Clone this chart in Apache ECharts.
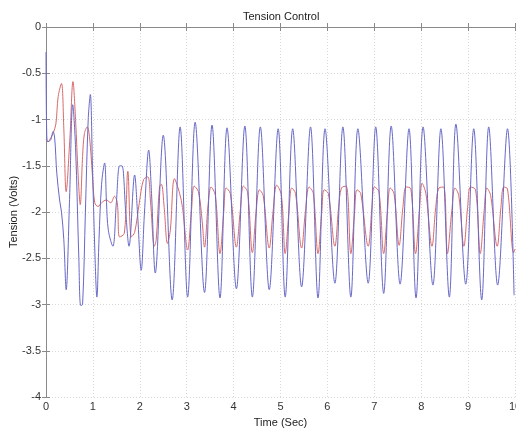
<!DOCTYPE html>
<html><head><meta charset="utf-8">
<script src="https://cdn.jsdelivr.net/npm/echarts@6/dist/echarts.min.js"></script>
<style>html,body{margin:0;padding:0;background:#fff}#c{width:516px;height:428px}</style>
</head><body><div id="c"></div>
<script>
const xTicks = [0,1,2,3,4,5,6,7,8,9,10];
const yTicks = [0,-0.5,-1,-1.5,-2,-2.5,-3,-3.5,-4];

const blueT = [0,0.015,0.04,0.1,0.15,0.185,0.23,0.29,0.33,0.38,0.43,0.5,0.57,0.63,0.70,0.74,0.78,0.84,0.9,0.945,0.99,1.04,1.085,1.13,1.185,1.25,1.29,1.33,1.425,1.5,1.57,1.62,1.70,1.77,1.89,1.95,2.03,2.10,2.19,2.25,2.33,
  2.50,2.69,2.86,3.02,3.18,3.38,3.54,3.71,3.86,4.06,4.24,4.40,4.57,4.76,4.95,5.10,5.26,5.45,5.64,5.80,5.95,6.16,6.33,6.50,6.65,6.87,7.03,7.20,7.36,7.55,7.74,7.89,8.04,8.25,8.42,8.60,8.74,8.95,9.12,9.29,9.44,9.63,9.84,9.98];
const blueV = [-0.27,-1.15,-1.24,-1.22,-1.13,-1.2,-1.58,-1.87,-2.0,-2.3,-2.84,-1.9,-0.84,-1.3,-2.5,-3.01,-3.0,-2.0,-1.0,-0.73,-1.5,-2.4,-2.92,-2.3,-1.7,-1.47,-1.9,-2.2,-2.37,-1.9,-1.5,-1.5,-2.0,-2.37,-1.6,-2.0,-2.63,-2.0,-1.33,-1.8,-2.66,
  -1.17,-2.95,-1.08,-2.92,-1.03,-2.87,-1.06,-2.93,-1.09,-2.83,-1.07,-2.92,-1.08,-2.84,-1.1,-2.92,-1.1,-2.81,-1.08,-2.93,-1.1,-2.77,-1.08,-2.92,-1.1,-2.77,-1.08,-2.88,-1.07,-2.78,-1.1,-2.93,-1.08,-2.79,-1.1,-2.92,-1.05,-2.78,-1.1,-2.95,-1.08,-2.79,-1.1,-2.9];

const redT = [0,0.04,0.10,0.15,0.21,0.26,0.33,0.38,0.43,0.51,0.575,0.63,0.685,0.73,0.78,0.82,0.88,0.93,0.99,1.04,1.11,1.185,1.285,1.38,1.46,1.52,1.57,1.67,1.745,1.82,1.89,1.99,2.08,2.17,2.23,2.31,2.35,2.42,2.46,2.52,2.59,2.65,2.74,2.85,2.91,
  3.02,3.10,3.16,3.25,3.33,3.38,3.46,3.52,3.61,3.71,3.79,3.84,3.93,4.06,4.14,4.21,4.30,4.40,4.48,4.55,4.63,4.76,4.84,4.92,5.02,5.10,5.18,5.24,5.32,5.45,5.53,5.61,5.70,5.80,5.88,5.93,6.02,6.16,6.24,6.30,6.40,6.50,6.58,6.63,6.71,6.87,6.95,7.00,7.10,
  7.20,7.28,7.34,7.42,7.53,7.61,7.68,7.78,7.88,7.96,8.02,8.10,8.23,8.31,8.38,8.48,8.56,8.65,8.72,8.80,8.91,8.99,9.05,9.16,9.26,9.34,9.40,9.48,9.62,9.70,9.76,9.84,9.97,10.0];
const redV = [-1.22,-1.24,-1.2,-1.15,-1.05,-0.75,-0.61,-1.1,-1.78,-1.2,-0.59,-1.0,-1.6,-1.92,-1.4,-1.15,-1.08,-1.2,-1.6,-1.9,-1.94,-1.9,-1.87,-1.9,-1.83,-1.9,-2.27,-2.23,-1.56,-2.27,-2.22,-1.9,-1.65,-1.62,-1.9,-2.37,-2.3,-1.73,-1.7,-1.95,-2.34,-2.2,-1.64,-1.8,-1.95,
  -2.41,-2.0,-1.72,-1.78,-2.1,-2.38,-1.9,-1.73,-1.82,-2.45,-2.0,-1.74,-1.8,-2.38,-2.0,-1.72,-1.79,-2.44,-2.0,-1.76,-1.82,-2.39,-2.0,-1.71,-1.82,-2.45,-2.0,-1.74,-1.8,-2.39,-2.0,-1.73,-1.8,-2.45,-2.0,-1.76,-1.8,-2.37,-1.95,-1.74,-1.72,-2.45,-2.0,-1.76,-1.8,-2.37,-1.95,-1.73,-1.78,
  -2.45,-2.0,-1.74,-1.8,-2.36,-1.95,-1.73,-1.75,-2.45,-2.0,-1.69,-1.8,-2.37,-1.95,-1.74,-1.73,-2.45,-2.0,-1.74,-1.82,-2.37,-1.95,-1.73,-1.76,-2.45,-2.0,-1.74,-1.82,-2.37,-1.95,-1.73,-1.75,-2.44,-2.4];

const blueData = blueT.map((t,i)=>[t,blueV[i]]);
const redData = redT.map((t,i)=>[t,redV[i]]);

const FONT = 'Liberation Sans';
const chart = echarts.init(document.getElementById('c'), null, {renderer:'canvas'});
const axisLine = {show:true, lineStyle:{color:'#8a8a8a', width:1}};
const tick = {show:true, inside:true, length:4, lineStyle:{color:'#8a8a8a'}};
chart.setOption({
  animation:false,
  backgroundColor:'#fff',
  title:{text:'Tension Control', left:238, top:6,
    textStyle:{fontFamily:FONT, fontSize:11, fontWeight:'normal', color:'#222'}},
  grid:{left:46, right:1, top:27, bottom:31, containLabel:false, outerBoundsMode:'none'},
  xAxis:[{type:'value', min:0, max:10, interval:1, name:'Time (Sec)', nameLocation:'middle', nameGap:20,
      nameTextStyle:{fontFamily:FONT, fontSize:11, color:'#222'},
      axisLine:axisLine, axisTick:tick,
      axisLabel:{fontFamily:FONT, fontSize:11, color:'#333', margin:4, formatter:v=>xTicks.includes(v)?String(v):''},
      splitLine:{show:true, lineStyle:{color:'#d8d8d8', type:[1,2]}}},
    {type:'value', min:0, max:10, interval:1, position:'top', axisLine:axisLine, axisTick:tick, axisLabel:{show:false}, splitLine:{show:false}}],
  yAxis:[{type:'value', min:-4, max:0, interval:0.5, name:'Tension (Volts)', nameLocation:'middle', nameGap:32, nameMoveOverlap:false,
      nameTextStyle:{fontFamily:FONT, fontSize:11, color:'#222', verticalAlign:'middle'},
      axisLine:axisLine, axisTick:tick,
      axisLabel:{fontFamily:FONT, fontSize:11, color:'#333', margin:5, formatter:v=>yTicks.includes(v)?String(v):''},
      splitLine:{show:true, lineStyle:{color:'#d8d8d8', type:[1,2]}}},
    {type:'value', min:-4, max:0, interval:0.5, position:'right', axisLine:axisLine, axisTick:tick, axisLabel:{show:false}, splitLine:{show:false}}],
  series:[
    {type:'line', name:'Reference', data:redData, showSymbol:false, smooth:0.35, z:2,
      lineStyle:{color:'#d86a6a', width:1}},
    {type:'line', name:'Tension', data:blueData, showSymbol:false, smooth:0.35, z:3,
      lineStyle:{color:'#6868c8', width:1}}
  ]
});
</script>
</body></html>
